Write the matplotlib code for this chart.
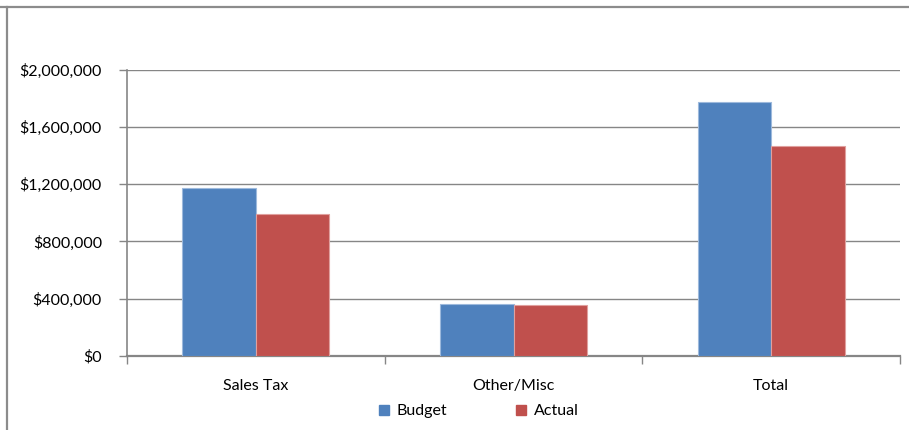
import numpy as np
import matplotlib
matplotlib.use('Agg')
import matplotlib.pyplot as plt
from matplotlib.lines import Line2D
from matplotlib.ticker import FuncFormatter

plt.rcParams['font.family'] = ['Lato', 'DejaVu Sans']

## chart data
categories = ['Sales Tax', 'Other/Misc', 'Total']
budget = [1172000, 362000, 1775000]
actual = [992000, 352000, 1465000]
series_names = ['Budget', 'Actual']
yticks = [0, 400000, 800000, 1200000, 1600000, 2000000]

BLUE = '#4F81BD'
RED = '#C0504D'
GRID = '#868686'


def money(v, pos):
    return '${:,.0f}'.format(v)


def plot_chart():
    fig = plt.figure(figsize=(9.09, 4.30), dpi=100)
    ax = fig.add_axes([127 / 909, 1 - 355.7 / 430, (900 - 127) / 909, (355.7 - 70) / 430])

    x = np.arange(len(categories))
    w = 1 / 3.5
    ax.bar(x - w / 2, budget, width=w, color=BLUE, edgecolor='#9db9dc', linewidth=0.8, zorder=3)
    ax.bar(x + w / 2, actual, width=w, color=RED, edgecolor='#e0a09e', linewidth=0.8, zorder=3)

    ax.set_xlim(-0.5, len(categories) - 0.5)
    ax.set_ylim(0, 2000000)
    ax.set_yticks(yticks)
    ax.yaxis.set_major_formatter(FuncFormatter(money))
    ax.yaxis.grid(True, color=GRID, linewidth=1.0, zorder=0)

    ax.set_xticks(x)
    ax.set_xticklabels(categories)
    ax.set_xticks(np.arange(len(categories) + 1) - 0.5, minor=True)
    ax.tick_params(axis='x', which='major', length=0, pad=17, labelsize=11.5, colors='black')
    ax.tick_params(axis='x', which='minor', length=6, width=1.0, color=GRID)
    ax.tick_params(axis='y', length=6, width=1.0, color=GRID, labelsize=11.5, pad=12)

    for side in ['top', 'right']:
        ax.spines[side].set_visible(False)
    ax.spines['left'].set_color(GRID)
    ax.spines['bottom'].set_color(GRID)
    ax.spines['bottom'].set_linewidth(1.6)
    ax.spines['left'].set_linewidth(1.2)

    ## chart area border (cropped at top/left)
    fig.add_artist(Line2D([0, 1], [1 - 7 / 430, 1 - 7 / 430], color='#8c8c8c', linewidth=1.6))
    fig.add_artist(Line2D([7.3 / 909, 7.3 / 909], [0, 1 - 7 / 430], color='#8c8c8c', linewidth=1.6))

    handles = [Line2D([], [], marker='s', linestyle='none', markersize=7, color=c)
               for c in [BLUE, RED]]
    fig.legend(handles, series_names, loc='center', bbox_to_anchor=(478 / 909, 1 - 411 / 430),
               ncol=2, frameon=False, fontsize=11.5, handlelength=0.8, handletextpad=0.4,
               columnspacing=4.2, borderaxespad=0)

    fig.savefig('out.png', dpi=100)


if __name__ == '__main__':
    plot_chart()
